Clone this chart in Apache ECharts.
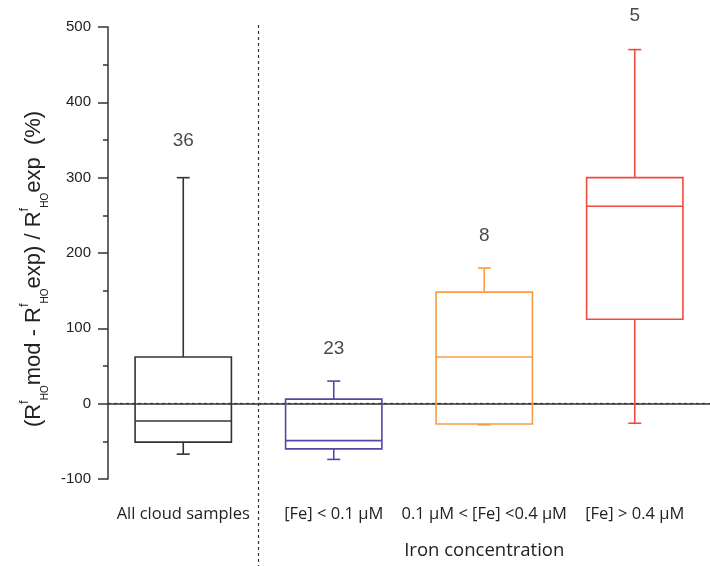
<!DOCTYPE html>
<html>
<head>
<meta charset="utf-8">
<script src="https://cdn.jsdelivr.net/npm/echarts@6/dist/echarts.min.js"></script>
<style>
  html, body { margin: 0; padding: 0; background: #fff; }
  #main { width: 710px; height: 566px; }
</style>
</head>
<body>
<div id="main"></div>
<script>
// categories and box statistics
var categories = ['All cloud samples', '[Fe] < 0.1 \u00b5M', '0.1 \u00b5M < [Fe] <0.4 \u00b5M', '[Fe] > 0.4 \u00b5M'];
var lowerWhisker = [-67, -74, -28, -26];
var q1Values = [-51, -60, -27, 112];
var medianValues = [-23, -49, 62, 262];
var q3Values = [62, 6, 148, 300];
var upperWhisker = [300, 30, 180, 470];
var sampleCounts = [36, 23, 8, 5];
var countLabelY = [349, 73, 223, 515];
var boxColors = ['#333333', '#5a45a0', '#f59e45', '#ef4a3e'];

var myChart = echarts.init(document.getElementById('main'));

var boxData = [];
var labelData = [];
for (var i = 0; i < categories.length; i++) {
	boxData.push([i, lowerWhisker[i], q1Values[i], medianValues[i], q3Values[i], upperWhisker[i]]);
	labelData.push([i, countLabelY[i], sampleCounts[i]]);
}

function renderBox(params, api) {
	var idx = api.value(0);
	var color = boxColors[idx];
	var pLow = api.coord([idx, api.value(1)]);
	var pQ1 = api.coord([idx, api.value(2)]);
	var pMed = api.coord([idx, api.value(3)]);
	var pQ3 = api.coord([idx, api.value(4)]);
	var pHigh = api.coord([idx, api.value(5)]);
	var band = api.size([1, 0])[0];
	var half = band * 0.32;
	var cap = 6.5;
	var cx = pMed[0];
	var st = { stroke: color, lineWidth: 1.6, fill: null };
	return {
		type: 'group',
		children: [
			{ type: 'line', shape: { x1: cx, y1: pQ3[1], x2: cx, y2: pHigh[1] }, style: st },
			{ type: 'line', shape: { x1: cx - cap, y1: pHigh[1], x2: cx + cap, y2: pHigh[1] }, style: st },
			{ type: 'line', shape: { x1: cx, y1: pQ1[1], x2: cx, y2: pLow[1] }, style: st },
			{ type: 'line', shape: { x1: cx - cap, y1: pLow[1], x2: cx + cap, y2: pLow[1] }, style: st },
			{ type: 'rect', shape: { x: cx - half, y: pQ3[1], width: half * 2, height: pQ1[1] - pQ3[1] }, style: { stroke: color, lineWidth: 1.6, fill: 'rgba(0,0,0,0)' } },
			{ type: 'line', shape: { x1: cx - half, y1: pMed[1], x2: cx + half, y2: pMed[1] }, style: st }
		]
	};
}

var options = {
	backgroundColor: '#ffffff',
	animation: false,
	grid: {
		left: 108,
		right: -5,
		top: 27,
		bottom: 87
	},
	xAxis: [
		{
			type: 'category',
			data: categories,
			boundaryGap: true,
			axisLine: { lineStyle: { color: '#333', width: 1.5 } },
			axisTick: { alignWithLabel: true, length: 7, lineStyle: { color: '#333', width: 1.5 } },
			axisLabel: {
				margin: 27,
				color: '#222',
				fontFamily: 'Open Sans',
				fontSize: 16.5,
				interval: 0
			},
			splitLine: { show: false }
		},
		{
			type: 'value',
			min: 0,
			max: 4,
			show: false
		}
	],
	yAxis: {
		type: 'value',
		min: -100,
		max: 500,
		interval: 100,
		axisLine: { show: true, lineStyle: { color: '#333', width: 1.5 } },
		axisTick: { show: true, length: 10, lineStyle: { color: '#333', width: 1.5 } },
		minorTick: { show: true, splitNumber: 2, length: 5, lineStyle: { color: '#333', width: 1.5 } },
		splitLine: { show: false },
		axisLabel: {
			margin: 17,
			color: '#222',
			fontFamily: 'Liberation Sans',
			fontSize: 15
		},
		name: '(R{sup|f}{sub|HO}mod - R{sup|f}{sub|HO}exp) / R{sup|f}{sub|HO}exp  (%)',
		nameLocation: 'middle',
		nameRotate: 90,
		nameGap: 56,
		nameTextStyle: {
			color: '#222',
			fontFamily: 'Liberation Sans',
			fontSize: 22,
			lineHeight: 32,
			padding: [0, 32, 0, 0],
			rich: {
				sup: { fontSize: 13, fontFamily: 'Liberation Sans', color: '#222', verticalAlign: 'top', lineHeight: 32 },
				sub: { fontSize: 10, fontFamily: 'Liberation Sans', color: '#222', verticalAlign: 'bottom', lineHeight: 32 }
			}
		}
	},
	series: [
		{
			type: 'custom',
			renderItem: renderBox,
			data: boxData,
			encode: { x: 0, y: [1, 2, 3, 4, 5] },
			markLine: {
				silent: true,
				symbol: 'none',
				label: { show: false },
				lineStyle: { type: [3, 3], color: '#333', width: 1.2 },
				data: [{ yAxis: 0 }]
			},
			z: 3
		},
		{
			type: 'scatter',
			data: labelData,
			symbolSize: 0,
			clip: false,
			label: {
				show: true,
				position: 'inside',
				color: '#1a1a1a',
				fontFamily: 'Liberation Sans',
				fontSize: 19,
				formatter: function(p) { return p.value[2]; }
			},
			z: 4
		}
	]
};

myChart.setOption(options);

// separator between "all samples" and the iron concentration classes, plus group title
var sepX = myChart.convertToPixel({ xAxisIndex: 1 }, 1);
var topY = myChart.convertToPixel({ yAxisIndex: 0 }, 500);
var groupX = myChart.convertToPixel({ xAxisIndex: 0 }, categories[2]);
myChart.setOption({
	graphic: [
		{
			type: 'line',
			shape: { x1: sepX, y1: topY - 2, x2: sepX, y2: 566 },
			style: { stroke: '#333', lineWidth: 1.2, lineDash: [3, 3] },
			silent: true
		},
		{
			type: 'text',
			x: groupX,
			y: 551,
			style: {
				text: 'Iron concentration',
				fill: '#222',
				font: '18.5px "Open Sans"',
				textAlign: 'center',
				textVerticalAlign: 'middle'
			}
		}
	]
});
options = null;
</script>
</body>
</html>
